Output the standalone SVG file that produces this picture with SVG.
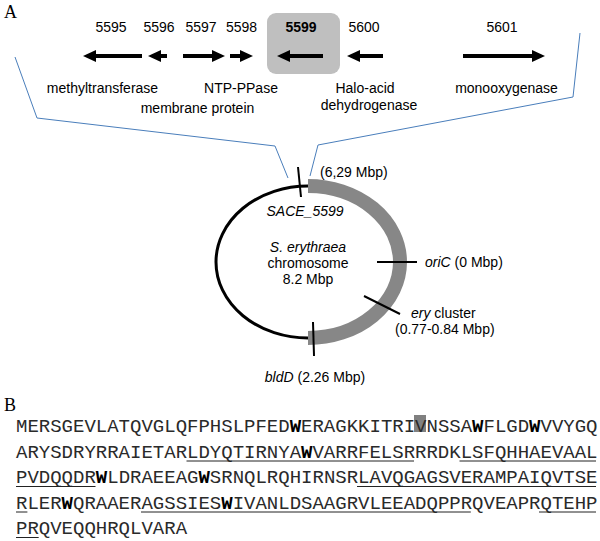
<svg xmlns="http://www.w3.org/2000/svg" width="600" height="541" viewBox="0 0 600 541">
<style>
.s{font-family:"Liberation Sans",Arial,sans-serif;font-size:14px;fill:#000}
.c{text-anchor:middle}
.i{font-style:italic}
.b{font-weight:bold}
.p{font-family:"Liberation Serif","Times New Roman",serif;font-size:18px;fill:#000}
.seq{font-family:"Liberation Mono","Courier New",monospace;font-size:19px;fill:#2a2a2a}
.seq tspan.w{font-weight:bold;fill:#000}
.ul{stroke:#222;stroke-width:1}
.arr{stroke:#000;stroke-width:4;fill:none;marker-end:url(#ah)}
.blue{stroke:#4a7ebb;stroke-width:1;fill:none}
.tick{stroke:#000;stroke-width:2}
</style>
<defs>
<marker id="ah" markerUnits="userSpaceOnUse" viewBox="0 -6 13 12" markerWidth="13" markerHeight="12" refX="0" refY="0" orient="auto">
<path d="M0,-6 L13,0 L0,6 z" fill="#000"/>
</marker>
</defs>
<rect width="600" height="541" fill="#fff"/>
<text class="p" x="4" y="18">A</text>
<text class="p" x="4" y="411">B</text>
<g id="connectors">
<polyline class="blue" points="15,57 37,118 275,146 288,178"/>
<polyline class="blue" points="580,33 573,97 318,145 310,176"/>
</g>
<g id="gene-5595"><text class="s c" x="111" y="32">5595</text><line class="arr" x1="142" y1="56" x2="96" y2="56"/><text class="s c" x="102.5" y="93">methyltransferase</text></g>
<g id="gene-5596"><text class="s c" x="159" y="32">5596</text><line class="arr" x1="167" y1="56" x2="161" y2="56"/></g>
<g id="gene-5597"><text class="s c" x="201" y="32">5597</text><line class="arr" x1="183" y1="56" x2="212" y2="56"/><text class="s c" x="197.5" y="113">membrane protein</text></g>
<g id="gene-5598"><text class="s c" x="241.5" y="32">5598</text><line class="arr" x1="230" y1="56" x2="240" y2="56"/><text class="s c" x="241" y="93">NTP-PPase</text></g>
<g id="gene-5599"><rect x="267" y="13" width="73" height="61" rx="9" fill="#bfbfbf"/><text class="s c b" x="301" y="32">5599</text><line class="arr" x1="323" y1="56" x2="290" y2="56"/></g>
<g id="gene-5600"><text class="s c" x="364" y="32">5600</text><line class="arr" x1="383" y1="56" x2="360" y2="56"/><text class="s c" x="365" y="93">Halo-acid</text><text class="s c" x="369" y="110">dehydrogenase</text></g>
<g id="gene-5601"><text class="s c" x="502" y="32">5601</text><line class="arr" x1="463" y1="56" x2="532" y2="56"/><text class="s c" x="506.5" y="93">monooxygenase</text></g>
<g id="chromosome">
<ellipse cx="308" cy="262" rx="92" ry="76" fill="none" stroke="#000" stroke-width="3"/>
<path d="M308,186 A92,76 0 0 1 308,338" fill="none" stroke="#878787" stroke-width="14"/>
<line class="tick" x1="298" y1="167" x2="301" y2="197"/>
<line class="tick" x1="313" y1="322" x2="314" y2="356"/>
<line class="tick" x1="377" y1="262" x2="417" y2="262"/>
<line class="tick" x1="364" y1="296" x2="400" y2="314"/>
<text class="s c i" x="308" y="252">S. erythraea</text>
<text class="s c" x="308" y="268">chromosome</text>
<text class="s c" x="308" y="284">8.2 Mbp</text>
<text class="s" x="320" y="177">(6,29 Mbp)</text>
<text class="s c i" x="305" y="216">SACE_5599</text>
<text class="s" x="425" y="267"><tspan class="i">oriC</tspan> (0 Mbp)</text>
<text class="s" x="411" y="318"><tspan class="i">ery</tspan> cluster</text>
<text class="s" x="395" y="334">(0.77-0.84 Mbp)</text>
<text class="s c" x="315" y="382"><tspan class="i">bldD</tspan> (2.26 Mbp)</text>
</g>
<g id="sequence">
<rect x="414" y="415" width="12" height="17" fill="#808080"/>
<text class="seq" x="16" y="432">MERSGEVLATQVGLQFPHSLPFED<tspan class="w">W</tspan>ERAGKKITRIVNSSA<tspan class="w">W</tspan>FLGD<tspan class="w">W</tspan>VVYGQ</text>
<text class="seq" x="16" y="457.5">ARYSDRYRRAIETARLDYQTIRNYA<tspan class="w">W</tspan>VARRFELSRRRDKLSFQHHAEVAAL</text>
<text class="seq" x="16" y="483">PVDQQDR<tspan class="w">W</tspan>LDRAEEAG<tspan class="w">W</tspan>SRNQLRQHIRNSRLAVQGAGSVERAMPAIQVTSE</text>
<text class="seq" x="16" y="508.5">RLER<tspan class="w">W</tspan>QRAAERAGSSIES<tspan class="w">W</tspan>IVANLDSAAGRVLEEADQPPRQVEAPRQTEHP</text>
<text class="seq" x="16" y="534">PRQVEQQHRQLVARA</text>
<line class="ul" x1="186.5" y1="461" x2="414" y2="461"/>
<line class="ul" x1="459.5" y1="461" x2="596" y2="461"/>
<line class="ul" x1="16" y1="486.5" x2="95.5" y2="486.5"/>
<line class="ul" x1="357" y1="486.5" x2="596" y2="486.5"/>
<line class="ul" x1="16" y1="512" x2="27.4" y2="512"/>
<line class="ul" x1="141" y1="512" x2="470.8" y2="512"/>
<line class="ul" x1="539" y1="512" x2="596" y2="512"/>
<line class="ul" x1="16" y1="537.5" x2="38.7" y2="537.5"/>
</g>
</svg>
